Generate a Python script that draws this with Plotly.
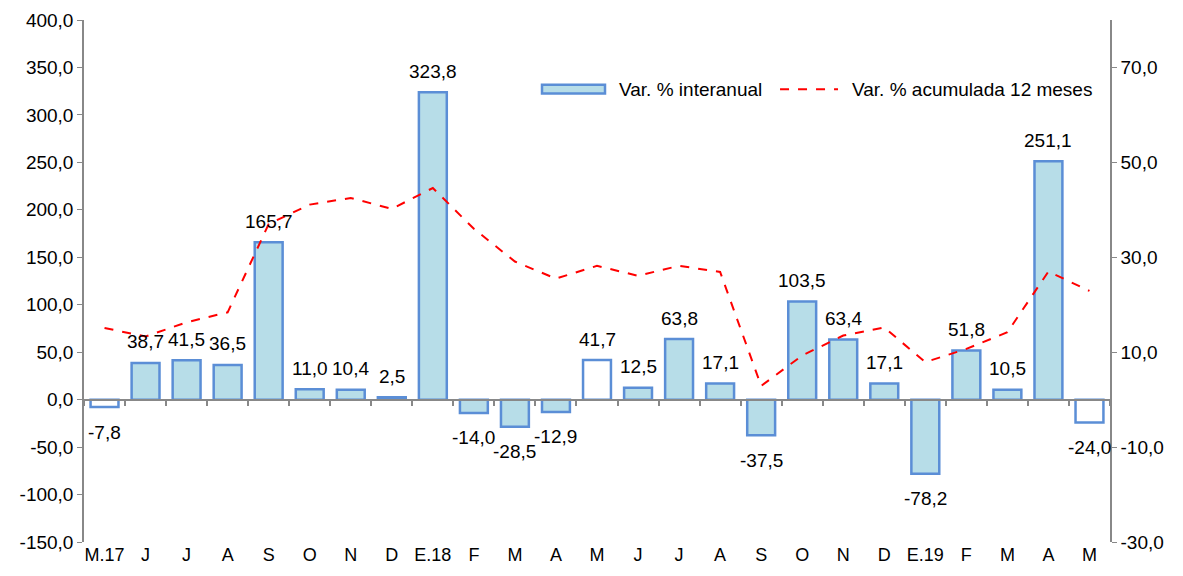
import plotly.graph_objects as go

categories = ["M.17", "J", "J", "A", "S", "O", "N", "D", "E.18", "F", "M", "A", "M",
              "J", "J", "A", "S", "O", "N", "D", "E.19", "F", "M", "A", "M"]
var_interanual = [-7.8, 38.7, 41.5, 36.5, 165.7, 11.0, 10.4, 2.5, 323.8, -14.0, -28.5, -12.9, 41.7,
                  12.5, 63.8, 17.1, -37.5, 103.5, 63.4, 17.1, -78.2, 51.8, 10.5, 251.1, -24.0]
var_acumulada = [15.1, 13.3, 16.3, 18.4, 37.0, 41.1, 42.5, 40.2, 44.6, 36.0, 29.1, 25.5, 28.2,
                 26.1, 28.2, 26.9, 2.9, 9.3, 13.5, 15.2, 7.9, 10.7, 14.2, 27.0, 22.9]
left_ticks = [-150, -100, -50, 0, 50, 100, 150, 200, 250, 300, 350, 400]
right_ticks = [-30, -10, 10, 30, 50, 70]
series_names = ["Var. % interanual", "Var. % acumulada 12 meses"]

# style
white_idx = {0, 12, 24}
FILL = "#B7DDE8"
EDGE = "#5B8ED6"
LINE_COL = "#FF0000"
FONT = "Liberation Sans, Arial, sans-serif"

def fmt(v):
    return f"{v:.1f}".replace(".", ",")

xs = list(range(len(categories)))
fills = ["#FFFFFF" if i in white_idx else FILL for i in xs]

fig = go.Figure()
fig.add_trace(go.Bar(
    x=xs, y=var_interanual, name=series_names[0],
    marker=dict(color=fills, line=dict(color=EDGE, width=2.5)),
    width=0.68, yaxis="y", showlegend=False,
))
fig.add_trace(go.Scatter(
    x=xs, y=var_acumulada, name=series_names[1], mode="lines",
    line=dict(color=LINE_COL, width=2, dash="dash"), yaxis="y2", showlegend=False,
))
# dummy trace for the zero axis
fig.add_trace(go.Scatter(x=[0], y=[0], xaxis="x2", yaxis="y", mode="markers",
                         marker=dict(opacity=0), showlegend=False, hoverinfo="skip"))

for i, v in enumerate(var_interanual):
    fig.add_annotation(x=i, y=v, xref="x", yref="y", text=fmt(v), showarrow=False,
                       yshift=21 if v >= 0 else -25,
                       font=dict(family=FONT, size=19, color="#000000"))

# custom legend (wide symbols as in the reference)
fig.add_shape(type="rect", xref="paper", yref="paper", x0=0.4464, x1=0.5078, y0=0.859, y1=0.876,
              fillcolor=FILL, line=dict(color=EDGE, width=2.5))
fig.add_annotation(xref="paper", yref="paper", x=0.5195, y=0.8675, xanchor="left", yanchor="middle",
                   text=series_names[0], showarrow=False, font=dict(family=FONT, size=19, color="#000000"))
fig.add_shape(type="line", xref="paper", yref="paper", x0=0.6784, x1=0.7349, y0=0.8675, y1=0.8675,
              line=dict(color=LINE_COL, width=2, dash="dash"))
fig.add_annotation(xref="paper", yref="paper", x=0.7466, y=0.8675, xanchor="left", yanchor="middle",
                   text=series_names[1], showarrow=False, font=dict(family=FONT, size=19, color="#000000"))

axis_col = "#888888"
fig.update_layout(
    width=1167, height=560,
    margin=dict(l=76, r=65, t=12, b=26, autoexpand=False),
    plot_bgcolor="white", paper_bgcolor="white",
    showlegend=False,
    xaxis=dict(range=[-0.5, len(categories) - 0.5], tickvals=xs, ticktext=categories,
               showline=False, ticks="", showgrid=False, zeroline=False, automargin=False,
               tickfont=dict(family=FONT, size=18, color="#000000")),
    xaxis2=dict(range=[-0.5, len(categories) - 0.5], overlaying="x", anchor="free",
                position=150 / 550, side="bottom", showline=True, linecolor=axis_col, linewidth=2,
                tickvals=[i + 0.5 for i in range(-1, len(categories))], ticks="outside",
                ticklen=5, tickcolor=axis_col, tickwidth=1.5, showticklabels=False,
                showgrid=False, zeroline=False, automargin=False),
    yaxis=dict(range=[-150, 400], tickvals=left_ticks, ticktext=[fmt(t) for t in left_ticks],
               showline=True, linecolor=axis_col, linewidth=1.5, ticks="outside", ticklen=5,
               tickcolor=axis_col, showgrid=False, zeroline=False, automargin=False,
               tickfont=dict(family=FONT, size=19, color="#000000")),
    yaxis2=dict(range=[-30, 80], tickvals=right_ticks, ticktext=[fmt(t) for t in right_ticks],
                overlaying="y", side="right", anchor="x",
                showline=True, linecolor=axis_col, linewidth=1.5, ticks="outside", ticklen=5,
                tickcolor=axis_col, showgrid=False, zeroline=False, automargin=False,
                tickfont=dict(family=FONT, size=19, color="#000000")),
)

fig.write_html("out.html")
